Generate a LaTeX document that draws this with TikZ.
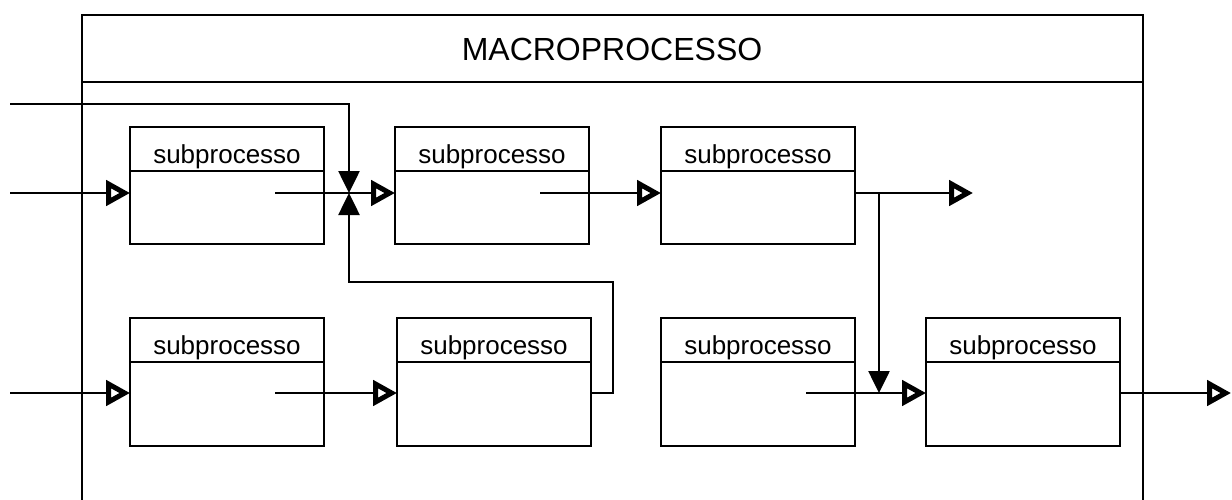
\documentclass[tikz,border=0pt]{standalone}
\usepackage{fontspec}
\setmainfont{Liberation Sans}
\usetikzlibrary{arrows.meta,calc}

\tikzset{
  wire/.style={line width=2.6pt},
  frame/.style={draw, line width=2.8pt, rectangle, inner sep=0pt, outer sep=0pt},
  sbox/.style={frame, minimum width=194pt, anchor=north west},
  sublabel/.style={anchor=base, inner sep=0pt, font=\fontsize{26}{30}\selectfont},
  flowin/.style={wire, -{Triangle[open, length=24pt, width=25pt, line width=5pt]}},
  joinin/.style={wire, -{Triangle[length=22pt, width=21pt]}},
}

% a sub-process box: name, left, top, height
\newcommand{\subbox}[4]{%
  \node[sbox, minimum height=#4pt] (#1) at (#2,#3) {};
  \draw[line width=2.8pt] ([yshift=-44pt]#1.north west) -- ([yshift=-44pt]#1.north east);
  \node[sublabel] (#1-t) at ([yshift=-36pt]#1.north) {subprocesso};
}

\begin{document}
\begin{tikzpicture}[x=1pt, y=-1pt]
\useasboundingbox (0,0) rectangle (1232,499);
\clip (0,0) rectangle (1232,499);

% enclosing macro-process frame with its title band
\node[frame, anchor=north west, minimum width=1061pt, minimum height=520pt] (macro) at (82,15) {};
\draw[line width=2.8pt] ([yshift=-67pt]macro.north west) -- ([yshift=-67pt]macro.north east);
\node[anchor=base, inner sep=0pt, font=\fontsize{32}{38}\selectfont] (title) at (612,60) {MACROPROCESSO};

% sub-process boxes
\subbox{b1}{130}{127}{117}
\subbox{b2}{395}{127}{117}
\subbox{b3}{661}{127}{117}
\subbox{c1}{130}{318}{128}
\subbox{c2}{397}{318}{128}
\subbox{c3}{661}{318}{128}
\subbox{c4}{926}{318}{128}

% loose ends and junction points
\coordinate (inTop) at (10,104);
\coordinate (inA) at (10,193);
\coordinate (inB) at (10,393);
\coordinate (srcB1) at (275,193);
\coordinate (srcB2) at (540,193);
\coordinate (srcC1) at (275,393);
\coordinate (srcC3) at (806,393);
\coordinate (merge) at (349,193);
\coordinate (split) at (879,193);
\coordinate (outA) at (973,193);
\coordinate (outB) at (1231,393);
\coordinate (loopR) at (613,282);

% inputs
\draw[flowin] (inA) -- (inA -| b1.west);
\draw[flowin] (inB) -- (inB -| c1.west);

% upper row
\draw[wire] (srcB1) -- (merge);
\draw[flowin] (merge) -- (merge -| b2.west);
\draw[joinin] (inTop) -| (merge);
\draw[flowin] (srcB2) -- (srcB2 -| b3.west);
\draw[flowin] (split -| b3.east) -- (outA);
\draw[joinin] (split) -- (split |- inB);

% lower row
\draw[flowin] (srcC1) -- (srcC1 -| c2.west);
\draw[joinin] (inB -| c2.east) -| (loopR) -| (merge);
\draw[flowin] (srcC3) -- (srcC3 -| c4.west);
\draw[flowin] (inB -| c4.east) -- (outB);
\end{tikzpicture}
\end{document}
